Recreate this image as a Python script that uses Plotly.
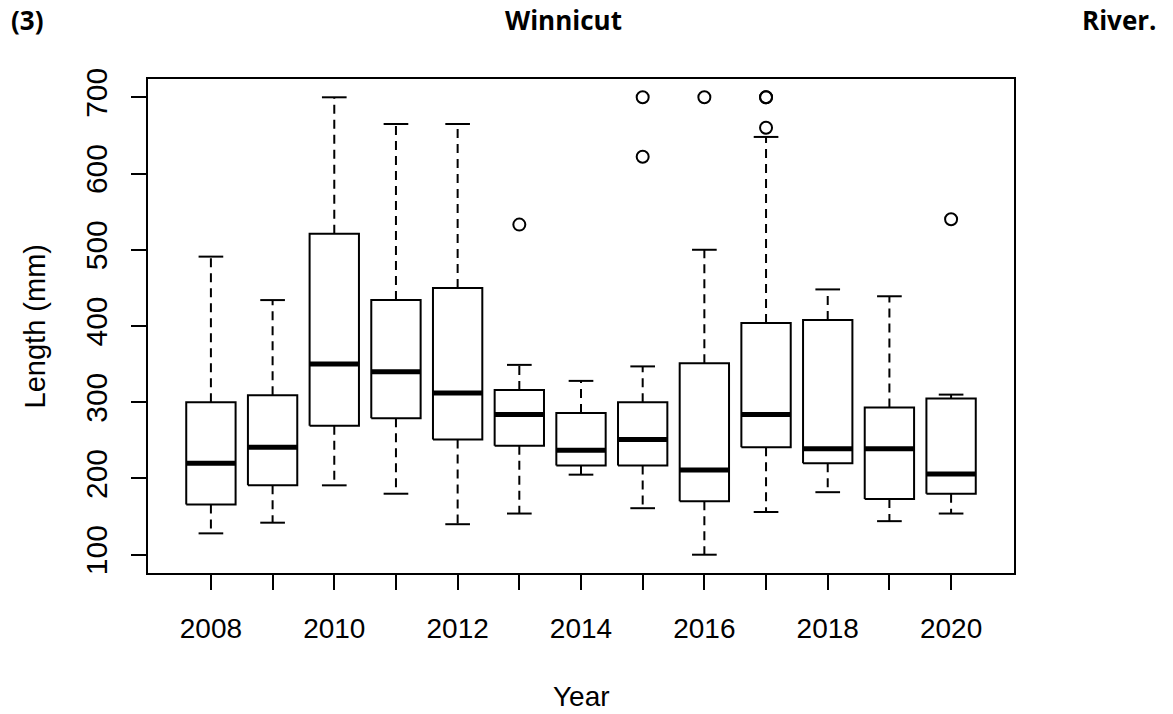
import plotly.graph_objects as go

# values (Length in mm)
years = list(range(2008, 2021))
lower_whisker = [128, 142, 191, 180, 140, 154, 205, 161, 100, 156, 182, 144, 154]
q1 = [166, 191, 269, 279, 251, 243, 217, 217, 170, 241, 220, 173, 180]
median = [220, 241, 350, 340, 312, 284, 237, 251, 211, 284, 239, 239, 206]
q3 = [300, 309, 521, 434, 450, 316, 286, 300, 351, 404, 408, 293, 305]
upper_whisker = [491, 434, 700, 665, 665, 349, 328, 347, 500, 648, 448, 439, 310]

outlier_years = [2013, 2015, 2015, 2016, 2017, 2017, 2017, 2020]
outlier_values = [533, 700, 622, 700, 700, 700, 660, 540]

tick_labels = [str(y) if y % 2 == 0 else '' for y in years]
y_ticks = [100, 200, 300, 400, 500, 600, 700]

BOX_HALF = 0.4     # boxwex 0.8
CAP_HALF = 0.2     # staple width
LINE = 'black'
SANS = 'Liberation Sans, Arial, sans-serif'

box_x, box_y = [], []
med_x, med_y = [], []
wh_x, wh_y = [], []
cap_x, cap_y = [], []
for i, yr in enumerate(years):
    box_x += [yr - BOX_HALF, yr + BOX_HALF, yr + BOX_HALF, yr - BOX_HALF, yr - BOX_HALF, None]
    box_y += [q1[i], q1[i], q3[i], q3[i], q1[i], None]
    med_x += [yr - BOX_HALF, yr + BOX_HALF, None]
    med_y += [median[i], median[i], None]
    wh_x += [yr, yr, None, yr, yr, None]
    wh_y += [q3[i], upper_whisker[i], None, q1[i], lower_whisker[i], None]
    cap_x += [yr - CAP_HALF, yr + CAP_HALF, None, yr - CAP_HALF, yr + CAP_HALF, None]
    cap_y += [upper_whisker[i], upper_whisker[i], None, lower_whisker[i], lower_whisker[i], None]

fig = go.Figure()
fig.add_trace(go.Scatter(x=wh_x, y=wh_y, mode='lines',
                         line=dict(color=LINE, width=2, dash='9px,6px')))
fig.add_trace(go.Scatter(x=cap_x, y=cap_y, mode='lines',
                         line=dict(color=LINE, width=2)))
fig.add_trace(go.Scatter(x=box_x, y=box_y, mode='lines', fill='toself',
                         fillcolor='white', line=dict(color=LINE, width=2)))
fig.add_trace(go.Scatter(x=med_x, y=med_y, mode='lines',
                         line=dict(color=LINE, width=5)))
fig.add_trace(go.Scatter(x=outlier_years, y=outlier_values, mode='markers',
                         marker=dict(symbol='circle-open', size=12,
                                     color=LINE, line=dict(width=2))))

fig.update_layout(
    width=1173, height=714,
    margin=dict(l=148, r=159, t=79, b=141),
    paper_bgcolor='white', plot_bgcolor='white',
    showlegend=False,
    font=dict(family=SANS, size=26, color='black'),
    xaxis=dict(range=[2006.98, 2021.02], tickvals=years, ticktext=tick_labels,
               showgrid=False, zeroline=False, showline=True, mirror=True,
               linecolor='black', linewidth=2, ticks='outside', ticklen=15,
               tickwidth=2, tickcolor='black', ticklabelstandoff=14,
               tickfont=dict(family=SANS, size=28, color='black')),
    yaxis=dict(range=[76, 724], tickvals=y_ticks, tickangle=-90,
               showgrid=False, zeroline=False, showline=True, mirror=True,
               linecolor='black', linewidth=2, ticks='outside', ticklen=15,
               tickwidth=2, tickcolor='black', ticklabelstandoff=12,
               tickfont=dict(family=SANS, size=30, color='black')),
)

title_font = dict(family='Open Sans, sans-serif', size=26, color='black')
fig.add_annotation(text='<b>(3)</b>', xref='paper', yref='paper', x=-0.161, y=1.12,
                   xanchor='left', yanchor='middle', showarrow=False, font=title_font)
fig.add_annotation(text='<b>Winnicut</b>', xref='paper', yref='paper', x=0.4796, y=1.12,
                   xanchor='center', yanchor='middle', showarrow=False, font=title_font)
fig.add_annotation(text='<b>River.</b>', xref='paper', yref='paper', x=1.1658, y=1.12,
                   xanchor='right', yanchor='middle', showarrow=False, font=title_font)

fig.add_annotation(text='Year', xref='paper', yref='paper', x=0.5, y=-0.25,
                   xanchor='center', yanchor='middle', showarrow=False,
                   font=dict(family=SANS, size=28, color='black'))
fig.add_annotation(text='Length (mm)', xref='paper', yref='paper', x=-0.13, y=0.5,
                   textangle=-90, xanchor='center', yanchor='middle', showarrow=False,
                   font=dict(family=SANS, size=29, color='black'))

# drop the default 8px page margin so the figure sits at the window corner
fig.write_html('out.html', config={'displayModeBar': False},
               post_script="document.body.style.margin='0';")
